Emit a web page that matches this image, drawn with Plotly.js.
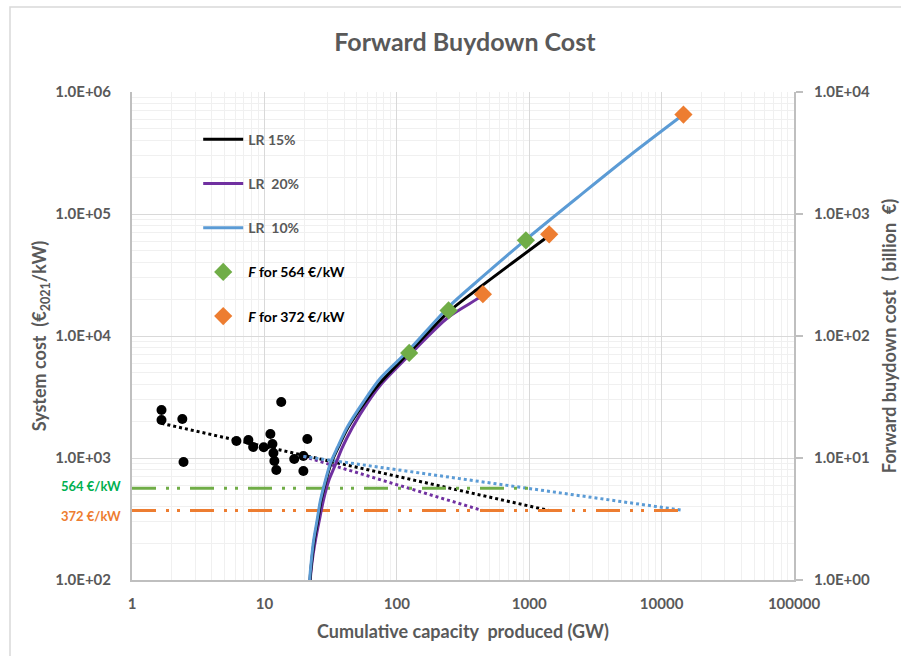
<!DOCTYPE html>
<html>
<head>
<meta charset="utf-8">
<script src="https://cdn.plot.ly/plotly-3.0.1.min.js"></script>
<style>
  html, body { margin: 0; padding: 0; background: #ffffff; }
  #chart { width: 901px; height: 656px; }
</style>
</head>
<body>
<div id="chart"></div>
<script>
// ---- Data ----
// Historical system cost points (GW, €2021/kW)
const histX = [1.67, 1.67, 2.40, 2.45, 13.4, 6.15, 7.57, 8.22, 9.88, 11.1, 11.5, 11.7, 11.9, 12.3, 16.8, 19.7, 21.1, 19.7];
const histY = [2472, 2047, 2088, 928, 2877, 1378, 1405, 1231, 1224, 1573, 1302, 1099, 944, 797, 981, 1038, 1431, 782];

// Experience-curve projections (dotted), left axis
const trend15X = [1.67, 1400];
const trend15Y = [1923, 372];
const trend20X = [19.7, 440];
const trend20Y = [1030, 372];
const trend10X = [19.7, 14600];
const trend10Y = [1030, 372];

// Target cost levels (dash-dot), left axis
const target564X = [1, 1150];
const target564Y = [564, 564];
const target372X = [1, 14000];
const target372Y = [372, 372];

// Forward buydown cost curves (right axis, billion €)
const lr10X = [21.6, 21.98, 22.63, 23.55, 25.0, 26.5, 28.9, 31.5, 35.6, 42.1, 56.1, 75.1, 122.8, 246, 427, 944, 2427, 5785, 14620];
const lr10Y = [0.5, 1.0, 1.45, 2.12, 3.09, 4.50, 6.56, 9.05, 12.2, 17.8, 29.0, 45.0, 76.3, 173, 295, 617, 1422, 3030, 6531];
const lr15X = [21.7, 22.1, 22.8, 23.8, 25.3, 26.8, 29.2, 31.9, 36.1, 42.8, 57.1, 75.1, 122.1, 245, 427, 762, 1400];
const lr15Y = [0.5, 1.0, 1.45, 2.12, 3.09, 4.50, 6.56, 9.05, 12.2, 17.8, 28.5, 41.5, 72.1, 157, 252, 404, 660];
const lr20X = [21.9, 22.2, 23.0, 24.3, 26.0, 27.9, 30.7, 33.8, 38.8, 46.2, 60.9, 75.1, 124, 246, 427, 447];
const lr20Y = [0.5, 1.0, 1.45, 2.12, 3.09, 4.50, 6.56, 8.43, 12.2, 17.8, 29.0, 39.5, 69.5, 143, 209, 220];

// Buydown cost F at the two target costs (right axis)
const f564X = [124, 246, 944];
const f564Y = [72.6, 162, 608];
const f372X = [447, 1416, 14620];
const f372Y = [220, 682, 6531];

// Tick labels
const xTickVals = [1, 10, 100, 1000, 10000, 100000];
const xTickText = ['1', '10', '100', '1000', '10000', '100000'];
const yTickVals = [100, 1000, 10000, 100000, 1000000];
const yTickText = ['1.0E+02', '1.0E+03', '1.0E+04', '1.0E+05', '1.0E+06'];
const y2TickVals = [1, 10, 100, 1000, 10000];
const y2TickText = ['1.0E+00', '1.0E+01', '1.0E+02', '1.0E+03', '1.0E+04'];

// ---- Styling helpers ----
function minorVals(lo, hi) {
  const out = [];
  for (let e = lo; e < hi; e++) {
    for (let m = 2; m <= 9; m++) out.push(m * Math.pow(10, e));
  }
  return out;
}
const FONT = 'Lato, "Open Sans", sans-serif';
const GRAY = '#595959';
const dashDot = '24px,10px,3px,8px,3px,10px';
const TICKFONT = { family: FONT, size: 15, color: GRAY, weight: 700 };
const AXTITLEFONT = { family: FONT, size: 18, color: GRAY, weight: 700 };

const traces = [
  { x: histX, y: histY, type: 'scatter', mode: 'markers', showlegend: false,
    marker: { color: '#000000', size: 10 }, hoverinfo: 'skip' },
  { x: trend15X, y: trend15Y, type: 'scatter', mode: 'lines', showlegend: false,
    line: { color: '#000000', width: 3, dash: 'dot' } },
  { x: trend20X, y: trend20Y, type: 'scatter', mode: 'lines', showlegend: false,
    line: { color: '#7030a0', width: 3, dash: 'dot' } },
  { x: trend10X, y: trend10Y, type: 'scatter', mode: 'lines', showlegend: false,
    line: { color: '#5b9bd5', width: 3, dash: 'dot' } },
  { x: target564X, y: target564Y, type: 'scatter', mode: 'lines', showlegend: false,
    line: { color: '#70ad47', width: 3, dash: dashDot } },
  { x: target372X, y: target372Y, type: 'scatter', mode: 'lines', showlegend: false,
    line: { color: '#ed7d31', width: 3, dash: dashDot } },
  { x: lr20X, y: lr20Y, yaxis: 'y2', type: 'scatter', mode: 'lines', name: 'LR\u00a0 20%',
    legendgroup: 'b', legendrank: 2, line: { color: '#7030a0', width: 3, shape: 'spline', smoothing: 0.8 } },
  { x: lr15X, y: lr15Y, yaxis: 'y2', type: 'scatter', mode: 'lines', name: 'LR 15%',
    legendgroup: 'a', legendrank: 1, line: { color: '#000000', width: 3, shape: 'spline', smoothing: 0.8 } },
  { x: lr10X, y: lr10Y, yaxis: 'y2', type: 'scatter', mode: 'lines', name: 'LR\u00a0 10%',
    legendgroup: 'c', legendrank: 3, line: { color: '#5b9bd5', width: 3, shape: 'spline', smoothing: 0.8 } },
  { x: f564X, y: f564Y, yaxis: 'y2', type: 'scatter', mode: 'markers',
    name: '<span style="color:#000000"><i>F</i> for 564 €/kW</span>',
    legendgroup: 'd', legendrank: 4, marker: { color: '#70ad47', symbol: 'diamond', size: 14 } },
  { x: f372X, y: f372Y, yaxis: 'y2', type: 'scatter', mode: 'markers',
    name: '<span style="color:#000000"><i>F</i> for 372 €/kW</span>',
    legendgroup: 'e', legendrank: 5, marker: { color: '#ed7d31', symbol: 'diamond', size: 14 } }
];

const layout = {
  width: 901, height: 656,
  margin: { l: 132, r: 107, t: 92, b: 76 },
  paper_bgcolor: '#ffffff', plot_bgcolor: '#ffffff',
  font: { family: FONT, color: GRAY, size: 14 },
  title: { text: 'Forward Buydown Cost', xref: 'container', x: 0.516, xanchor: 'center',
           yref: 'container', y: 0.936, yanchor: 'middle',
           font: { family: FONT, size: 25, color: GRAY, weight: 700 } },
  showlegend: true,
  legend: { x: 0.1, y: 0.935, xanchor: 'left', yanchor: 'top', bgcolor: 'rgba(0,0,0,0)',
            font: { family: FONT, size: 14, color: GRAY, weight: 700 },
            tracegroupgap: 23, itemwidth: 40, traceorder: 'grouped' },
  xaxis: {
    type: 'log', range: [0, 5], tickmode: 'array', tickvals: xTickVals, ticktext: xTickText,
    showgrid: true, gridcolor: '#d9d9d9', gridwidth: 1,
    minor: { tickmode: 'array', tickvals: minorVals(0, 5), showgrid: true, gridcolor: '#f0f0f0', gridwidth: 1, ticks: '' },
    showline: true, linecolor: '#bfbfbf', linewidth: 2, ticks: '', zeroline: false,
    tickfont: TICKFONT, ticklabelstandoff: 9,
    title: { text: 'Cumulative capacity&nbsp; produced (GW)', standoff: 14, font: AXTITLEFONT }
  },
  yaxis: {
    type: 'log', range: [2, 6], tickmode: 'array', tickvals: yTickVals, ticktext: yTickText,
    showgrid: true, gridcolor: '#d9d9d9', gridwidth: 1,
    minor: { tickmode: 'array', tickvals: minorVals(2, 6), showgrid: true, gridcolor: '#f0f0f0', gridwidth: 1, ticks: '' },
    showline: true, linecolor: '#bfbfbf', linewidth: 2, ticks: '', zeroline: false,
    tickfont: TICKFONT, ticklabelstandoff: 16,
    title: { text: 'System cost&nbsp; (€<sub>2021</sub>/kW)', standoff: 4, font: AXTITLEFONT }
  },
  yaxis2: {
    type: 'log', range: [0, 4], overlaying: 'y', side: 'right', tickmode: 'array',
    tickvals: y2TickVals, ticktext: y2TickText, showgrid: false, zeroline: false,
    showline: true, linecolor: '#bfbfbf', linewidth: 2,
    ticks: 'outside', ticklen: 7, tickcolor: '#bfbfbf', tickwidth: 1.5,
    tickfont: TICKFONT, ticklabelstandoff: 8,
    title: { text: 'Forward buydown cost&nbsp; ( billion&nbsp; €)', standoff: 14, font: AXTITLEFONT }
  },
  annotations: [
    { text: '564 €/kW', xref: 'paper', x: -0.013, xanchor: 'right', yref: 'y', y: Math.log10(564),
      yanchor: 'middle', yshift: 2, showarrow: false, font: { family: FONT, size: 13, color: '#00b050', weight: 700 } },
    { text: '372 €/kW', xref: 'paper', x: -0.013, xanchor: 'right', yref: 'y', y: Math.log10(372),
      yanchor: 'middle', yshift: -6, showarrow: false, font: { family: FONT, size: 13, color: '#ed7d31', weight: 700 } }
  ],
  shapes: [
    { type: 'rect', xref: 'paper', yref: 'paper', x0: -0.1843, x1: 1.17, y0: -0.17, y1: 1.174,
      line: { color: '#d9d9d9', width: 1.5 }, fillcolor: 'rgba(0,0,0,0)', layer: 'below' }
  ]
};

Plotly.newPlot('chart', traces, layout, { staticPlot: true, displayModeBar: false });
</script>
</body>
</html>
